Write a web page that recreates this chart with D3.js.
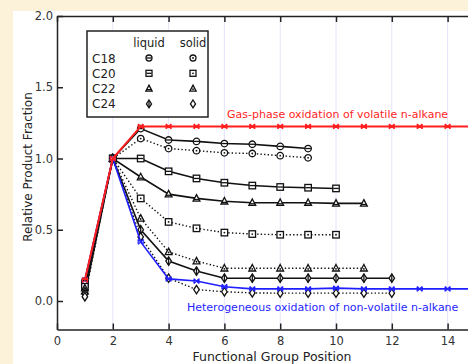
<!DOCTYPE html>
<html>
<head>
<meta charset="utf-8">
<script src="https://cdn.jsdelivr.net/npm/d3@7"></script>
<style>
  html, body { margin: 0; padding: 0; background: #fcf2da; }
  svg { display: block; }
  text { font-family: "DejaVu Sans", sans-serif; }
</style>
</head>
<body>
<div id="chart"></div>
<script>
// 数据 (x = 1, 2, 3, ...)
var c18Liquid = [0.14, 1.0, 1.21, 1.13, 1.12, 1.105, 1.10, 1.085, 1.07];
var c18Solid  = [0.12, 1.0, 1.14, 1.07, 1.055, 1.04, 1.035, 1.02, 1.005];
var c20Liquid = [0.12, 1.0, 1.0, 0.91, 0.86, 0.83, 0.81, 0.80, 0.795, 0.79];
var c20Solid  = [0.10, 1.0, 0.72, 0.555, 0.51, 0.48, 0.47, 0.465, 0.465, 0.465];
var c22Liquid = [0.09, 1.0, 0.87, 0.75, 0.72, 0.70, 0.69, 0.69, 0.69, 0.685, 0.685];
var c22Solid  = [0.07, 1.0, 0.58, 0.345, 0.28, 0.23, 0.23, 0.23, 0.23, 0.23, 0.23];
var c24Liquid = [0.05, 1.0, 0.50, 0.28, 0.21, 0.16, 0.16, 0.16, 0.16, 0.16, 0.16, 0.16];
var c24Solid  = [0.03, 1.0, 0.45, 0.16, 0.08, 0.065, 0.057, 0.055, 0.055, 0.055, 0.055, 0.055];
var gasPhase  = [0.147, 1.0, 1.225, 1.225, 1.225, 1.225, 1.225, 1.225, 1.225, 1.225, 1.225, 1.225, 1.225, 1.225, 1.225];
var heterogeneous = [0.147, 1.0, 0.415, 0.155, 0.14, 0.10, 0.085, 0.085, 0.085, 0.09, 0.085, 0.085, 0.085, 0.085, 0.085];

var xTicks = [0, 2, 4, 6, 8, 10, 12, 14];
var yTicks = [0.0, 0.5, 1.0, 1.5, 2.0];
var legendRows = ['C18', 'C20', 'C22', 'C24'];
var legendCols = ['liquid', 'solid'];

var series = [
  { name: 'C18', phase: 'liquid', shape: 'circle', values: c18Liquid },
  { name: 'C18', phase: 'solid', shape: 'circle', values: c18Solid },
  { name: 'C20', phase: 'liquid', shape: 'square', values: c20Liquid },
  { name: 'C20', phase: 'solid', shape: 'square', values: c20Solid },
  { name: 'C22', phase: 'liquid', shape: 'triangle', values: c22Liquid },
  { name: 'C22', phase: 'solid', shape: 'triangle', values: c22Solid },
  { name: 'C24', phase: 'liquid', shape: 'diamond', values: c24Liquid },
  { name: 'C24', phase: 'solid', shape: 'diamond', values: c24Solid }
];

var width = 468, height = 364;
var svg = d3.select('#chart').append('svg')
  .attr('width', width)
  .attr('height', height);

svg.append('rect')
  .attr('x', 13).attr('y', 11)
  .attr('width', width - 13).attr('height', height - 11)
  .attr('fill', '#fff');

var x = d3.scaleLinear().domain([0, 15]).range([57, 475.5]);
var y = d3.scaleLinear().domain([-0.2, 2.0]).range([329.5, 16]);

function pts(values) {
  return values.map(function (v, i) { return [i + 1, v]; });
}

var line = d3.line()
  .x(function (d) { return x(d[0]); })
  .y(function (d) { return y(d[1]); });

// 网格线
svg.append('g').selectAll('line')
  .data(xTicks.filter(function (t) { return t > 0; }))
  .enter().append('line')
  .attr('x1', function (d) { return x(d); })
  .attr('x2', function (d) { return x(d); })
  .attr('y1', y(2.0)).attr('y2', y(-0.2))
  .attr('stroke', '#e4e4fb').attr('stroke-width', 1);

// 坐标轴
var axisColor = '#222';
var xAxis = svg.append('g')
  .attr('transform', 'translate(0,' + y(-0.2) + ')')
  .call(d3.axisBottom(x).tickValues(xTicks).tickSizeInner(-6).tickSizeOuter(0).tickPadding(7)
    .tickFormat(d3.format('d')));
var xAxisTop = svg.append('g')
  .attr('transform', 'translate(0,' + y(2.0) + ')')
  .call(d3.axisTop(x).tickValues(xTicks).tickSizeInner(-6).tickSizeOuter(0).tickFormat(''));
var yAxis = svg.append('g')
  .attr('transform', 'translate(' + x(0) + ',0)')
  .call(d3.axisLeft(y).tickValues(yTicks).tickSizeInner(-6).tickSizeOuter(0).tickPadding(4)
    .tickFormat(d3.format('.1f')));

[xAxis, xAxisTop, yAxis].forEach(function (a) {
  a.select('.domain').attr('stroke', axisColor).attr('stroke-width', 1.5);
  a.selectAll('.tick line').attr('stroke', axisColor).attr('stroke-width', 1.5);
  a.selectAll('.tick text')
    .attr('fill', '#333')
    .style('font-family', '"DejaVu Sans", sans-serif')
    .style('font-size', '11.5px');
});

svg.append('text')
  .attr('x', 272).attr('y', 361)
  .attr('text-anchor', 'middle')
  .attr('fill', '#222')
  .style('font-size', '12.5px')
  .text('Functional Group Position');

svg.append('text')
  .attr('transform', 'translate(32,167) rotate(-90)')
  .attr('text-anchor', 'middle')
  .attr('fill', '#222')
  .style('font-size', '12px')
  .text('Relative Product Fraction');

// 标记
function drawMarker(g, shape, phase, cx, cy, s) {
  var r = s / 2;
  var m = g.append('g').attr('transform', 'translate(' + cx + ',' + cy + ')');
  var st = { stroke: '#111', 'stroke-width': 1.3, fill: '#fff' };
  var shp;
  if (shape === 'circle') {
    shp = m.append('circle').attr('r', r);
  } else if (shape === 'square') {
    shp = m.append('rect').attr('x', -r).attr('y', -r).attr('width', s).attr('height', s);
  } else if (shape === 'triangle') {
    shp = m.append('path').attr('d', 'M0,' + (-r * 1.15) + 'L' + r * 1.05 + ',' + r * 0.85 + 'L' + (-r * 1.05) + ',' + r * 0.85 + 'Z');
  } else {
    shp = m.append('path').attr('d', 'M0,' + (-r * 1.3) + 'L' + r * 0.85 + ',0L0,' + r * 1.3 + 'L' + (-r * 0.85) + ',0Z');
  }
  Object.keys(st).forEach(function (k) { shp.attr(k, st[k]); });
  if (phase === 'liquid') {
    if (shape === 'diamond') {
      m.append('line').attr('x1', 0).attr('x2', 0).attr('y1', -r * 1.3).attr('y2', r * 1.3)
        .attr('stroke', '#111').attr('stroke-width', 1.3);
    } else {
      var ly = shape === 'triangle' ? r * 0.35 : 0;
      m.append('line').attr('x1', -r + 0.5).attr('x2', r - 0.5).attr('y1', ly).attr('y2', ly)
        .attr('stroke', '#111').attr('stroke-width', 1.3);
    }
  } else if (shape !== 'diamond') {
    m.append('circle').attr('r', 0.9).attr('cy', shape === 'triangle' ? r * 0.2 : 0).attr('fill', '#111');
  }
}

function drawCross(g, color, cx, cy) {
  var a = 2.5;
  g.append('path')
    .attr('transform', 'translate(' + cx + ',' + cy + ')')
    .attr('d', 'M' + (-a) + ',' + (-a) + 'L' + a + ',' + a + 'M' + (-a) + ',' + a + 'L' + a + ',' + (-a) +
      'M' + (-a) + ',' + (-a) + 'L' + (-a) + ',' + a + 'M' + a + ',' + (-a) + 'L' + a + ',' + a)
    .attr('fill', 'none').attr('stroke', color).attr('stroke-width', 1.2);
}

// 黑色系列
var plot = svg.append('g');
series.forEach(function (s) {
  plot.append('path')
    .datum(pts(s.values))
    .attr('d', line)
    .attr('fill', 'none')
    .attr('stroke', '#111')
    .attr('stroke-width', s.phase === 'liquid' ? 1.6 : 1.4)
    .attr('stroke-dasharray', s.phase === 'liquid' ? null : '1.4,2.2');
});
series.forEach(function (s) {
  pts(s.values).forEach(function (d) {
    drawMarker(plot, s.shape, s.phase, x(d[0]), y(d[1]), 6.5);
  });
});

// 蓝色、红色
[[heterogeneous, '#1f1fff', 1.6], [gasPhase, '#ff1f1f', 2]].forEach(function (p) {
  plot.append('path')
    .datum(pts(p[0]))
    .attr('d', line)
    .attr('fill', 'none')
    .attr('stroke', p[1])
    .attr('stroke-width', p[2]);
  pts(p[0]).forEach(function (d) {
    drawCross(plot, p[1], x(d[0]), y(d[1]));
  });
});

svg.append('text')
  .attr('x', 227).attr('y', 118)
  .attr('fill', '#ff1f1f')
  .style('font-size', '11px')
  .text('Gas-phase oxidation of volatile n-alkane');
svg.append('text')
  .attr('x', 187).attr('y', 311)
  .attr('fill', '#1f1fff')
  .style('font-size', '11px')
  .text('Heterogeneous oxidation of non-volatile n-alkane');

// 图例
var legend = svg.append('g');
legend.append('rect')
  .attr('x', 87).attr('y', 31).attr('width', 121).attr('height', 86)
  .attr('fill', '#fff').attr('stroke', '#222').attr('stroke-width', 1.5);
var colX = [149, 193];
legendCols.forEach(function (c, i) {
  legend.append('text')
    .attr('x', colX[i]).attr('y', 47)
    .attr('text-anchor', 'middle')
    .attr('fill', '#222')
    .style('font-size', '11.5px')
    .text(c);
});
var shapes = ['circle', 'square', 'triangle', 'diamond'];
legendRows.forEach(function (r, i) {
  var cy = 58 + i * 15.3;
  legend.append('text')
    .attr('x', 92).attr('y', cy + 4.5)
    .attr('fill', '#222')
    .style('font-size', '12px')
    .text(r);
  legendCols.forEach(function (c, j) {
    drawMarker(legend, shapes[i], c, colX[j], cy, 6);
  });
});
</script>
</body>
</html>
